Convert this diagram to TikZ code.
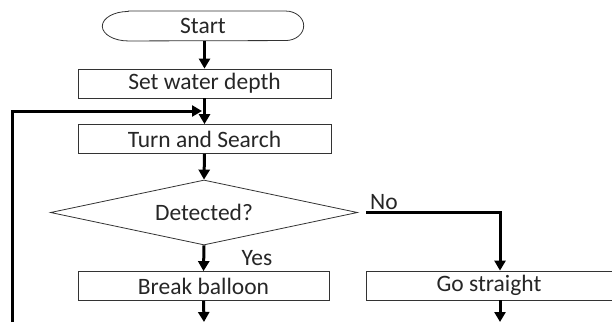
\documentclass[tikz,border=0pt]{standalone}
\usepackage{fontspec}
\setmainfont{Carlito}
\usetikzlibrary{shapes.geometric,shapes.misc,arrows.meta}
\definecolor{txt}{HTML}{262626}
\begin{document}
\begin{tikzpicture}[x=1pt,y=-1pt,
  every node/.style={font=\fontsize{23.5}{25}\selectfont, text=txt},
  procbox/.style={draw=black!80, line width=0.8pt, minimum height=29pt, inner sep=0pt},
  conn/.style={line width=3pt, -{Triangle[length=10pt,width=11pt]}}]
\useasboundingbox (0,0) rectangle (612,322);
\node[inner sep=0pt, minimum width=201pt, minimum height=29.5pt] (start) at (203,26) {Start};
\draw[black!80, line width=0.8pt] ([xshift=26pt]start.north west) -- ([xshift=-18pt]start.north east)
  arc[start angle=90, end angle=-90, x radius=18pt, y radius=14.75pt]
  -- ([xshift=26pt]start.south west)
  arc[start angle=270, end angle=90, x radius=26pt, y radius=14.75pt] -- cycle;
\node[procbox, minimum width=253pt] (set) at (204.5,83.5) {Set water depth};
\node[procbox, minimum width=253pt] (turn) at (204.5,139) {Turn and Search};
\node[diamond, draw=black!80, line width=0.8pt, inner sep=0pt, minimum width=307pt, minimum height=65pt, aspect=4.72] (dec) at (204,212.5) {Detected?};
\node[procbox, minimum width=251pt] (brk) at (203.5,286) {Break balloon};
\node[procbox, minimum width=246pt] (go) at (489,285.5) {Go straight};
\node (yes) at (257,258) {Yes};
\node (no) at (384,202) {No};
\coordinate (ncorner) at (500,212);
\coordinate (nstart) at (366,212);
\coordinate (b1) at (204,322);
\coordinate (b2) at (500,322);
\coordinate (lb) at (12,322);
\coordinate (lc) at (12,111);
\coordinate (le) at (202,111);
\draw[conn] (start.south -| set.north) -- (set.north);
\draw[conn] (set.south) -- (turn.north);
\draw[conn] (turn.south) -- (dec.north);
\draw[conn] (dec.south) -- (brk.north);
\draw[conn] (nstart) -- (ncorner) -- (ncorner |- go.north);
\draw[conn] (brk.south) -- (b1);
\draw[conn] (go.south -| ncorner) -- (b2);
\draw[conn] (lb) -- (lc) -- (le);
\end{tikzpicture}
\end{document}
